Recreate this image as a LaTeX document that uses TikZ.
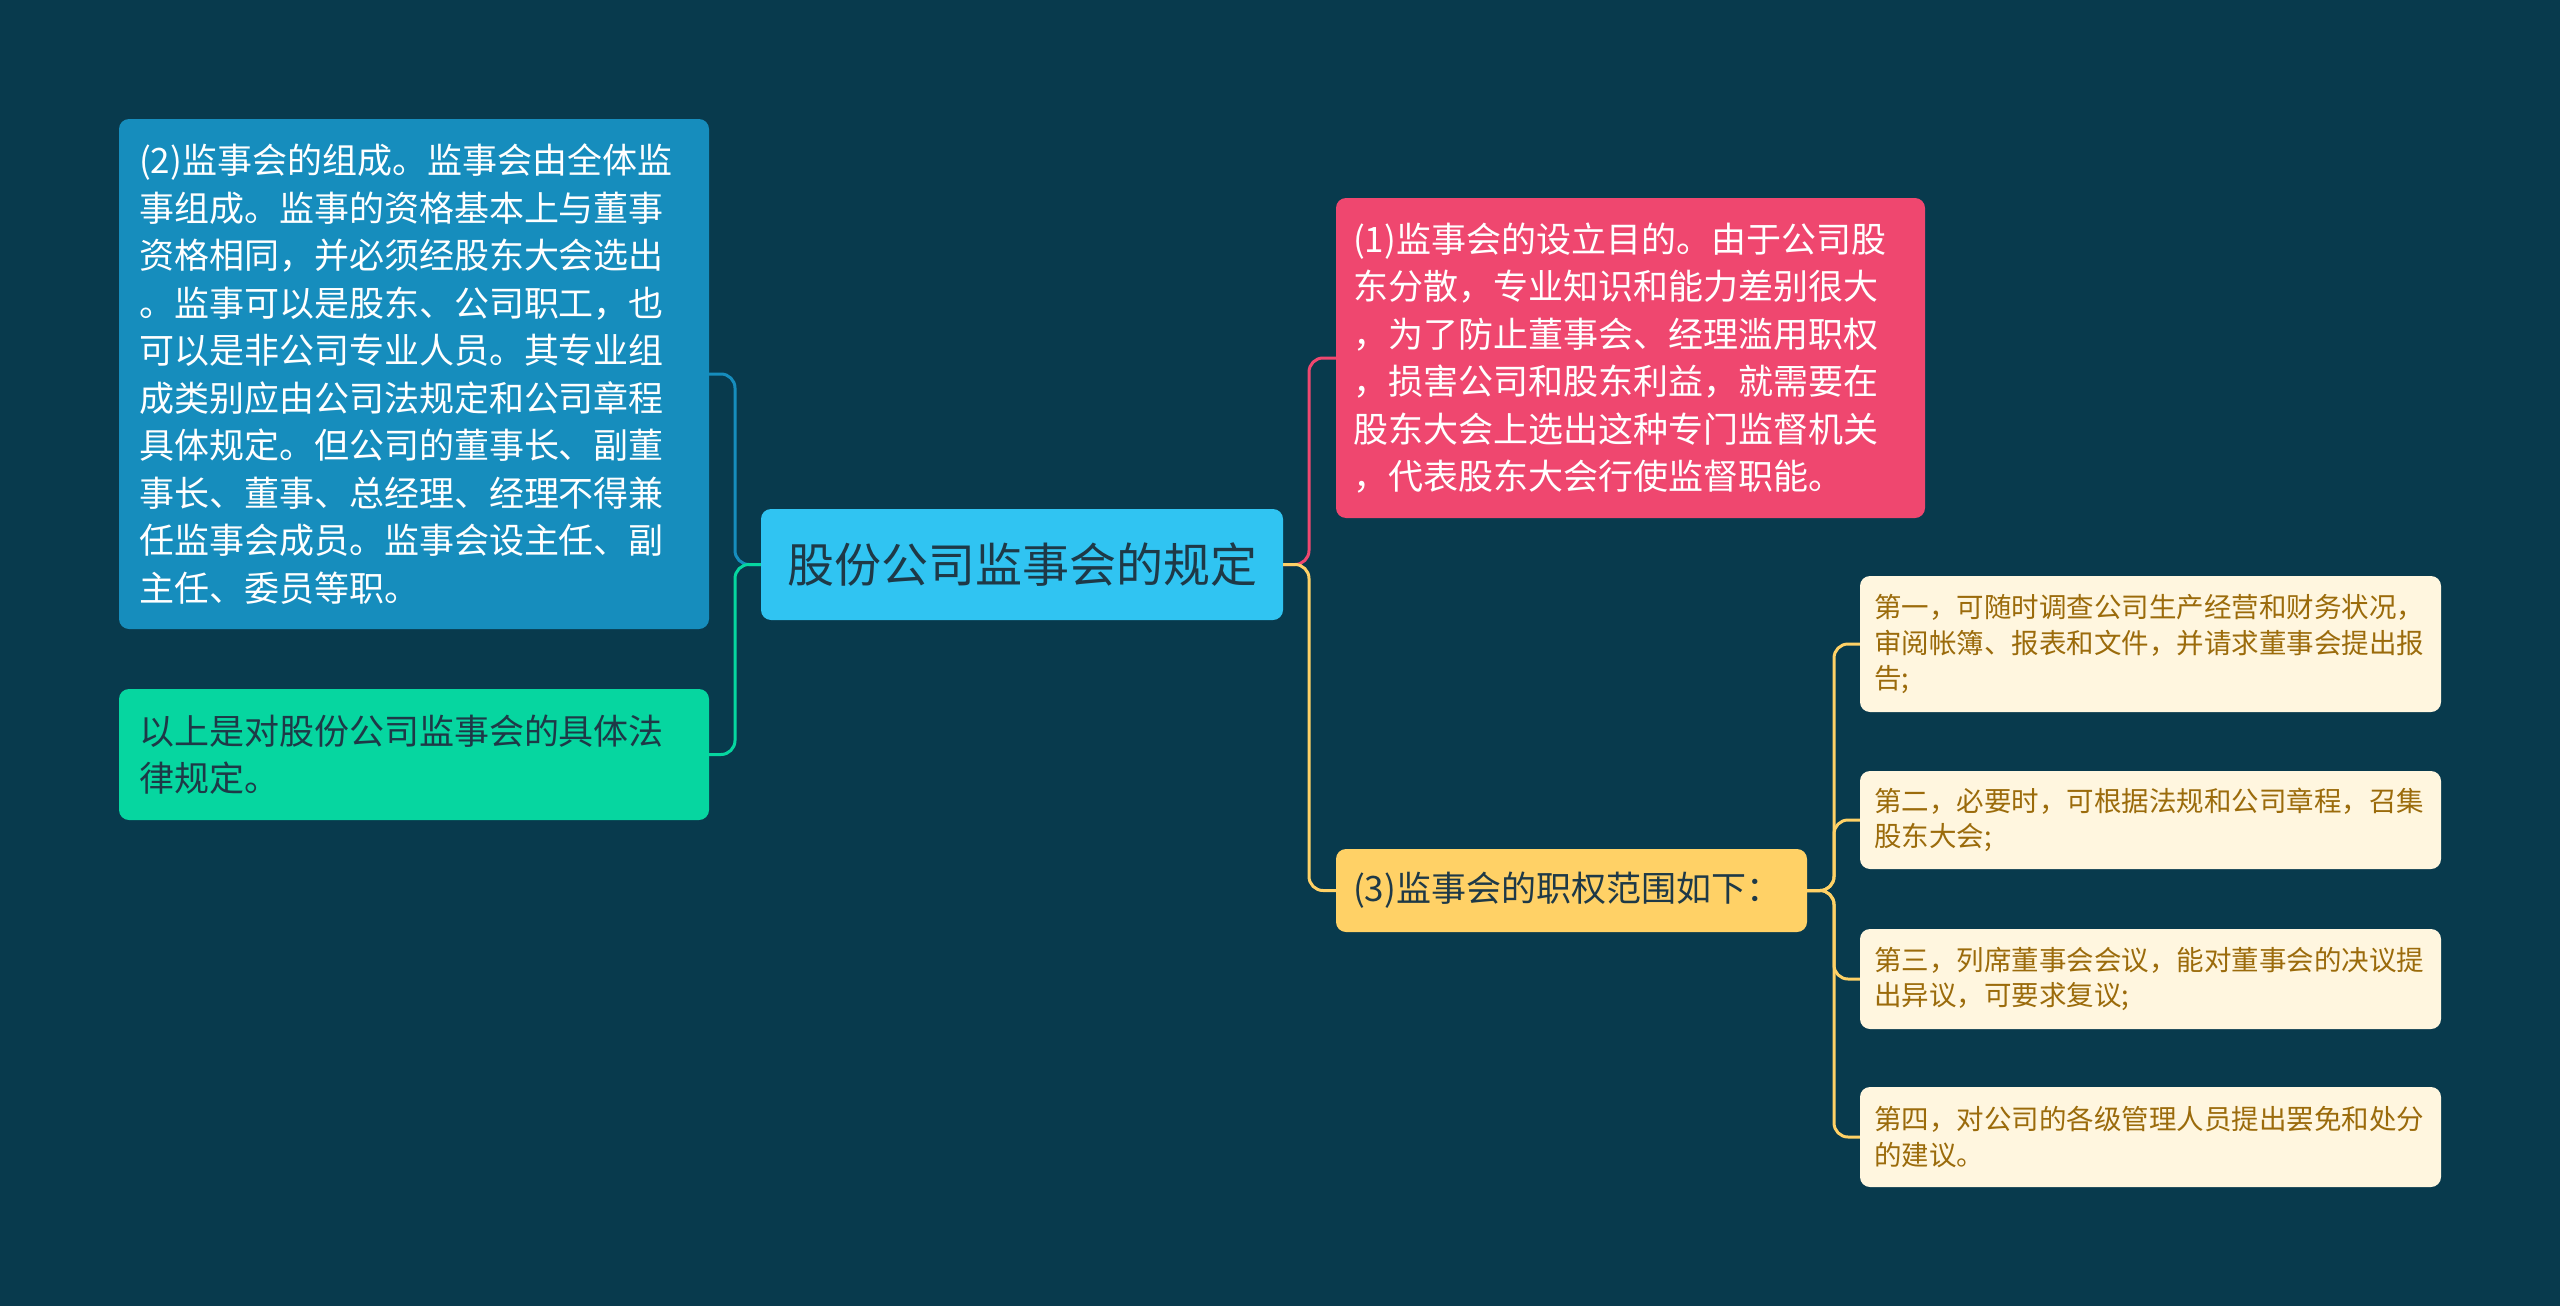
\documentclass[tikz,border=0pt]{standalone}
\usepackage{fontspec}
\setmainfont{Noto Sans CJK SC}
\definecolor{bg}{HTML}{083A4D}
\definecolor{cblue}{HTML}{168DBD}
\definecolor{cgreen}{HTML}{06D6A0}
\definecolor{ccenter}{HTML}{30C4F2}
\definecolor{cpink}{HTML}{EF476F}
\definecolor{cyellow}{HTML}{FFD166}
\definecolor{citem}{HTML}{FFF6DF}
\definecolor{citemtext}{HTML}{9B6B0B}
\definecolor{cdark}{HTML}{1E3947}
\begin{document}
\begin{tikzpicture}[x=1pt,y=-1pt,
  box/.style={rounded corners=10pt, align=left, inner ysep=0pt, anchor=center},
  bigtext/.style={font=\fontsize{35}{47.5}\selectfont},
  smalltext/.style={font=\fontsize{27.5}{35.5}\selectfont},
  conn/.style={line width=3pt, rounded corners=14pt}]
\path[fill=bg] (0,0) rectangle (2560,1306);
\useasboundingbox (0,0) rectangle (2560,1306);

% nodes
\node[box, bigtext, fill=cblue, text=white, inner xsep=20pt, text width=550pt, minimum height=510pt] (blue) at (414,374)
 {(2)监事会的组成。监事会由全体监\\事组成。监事的资格基本上与董事\\资格相同，并必须经股东大会选出\\。监事可以是股东、公司职工，也\\可以是非公司专业人员。其专业组\\成类别应由公司法规定和公司章程\\具体规定。但公司的董事长、副董\\事长、董事、总经理、经理不得兼\\任监事会成员。监事会设主任、副\\主任、委员等职。};
\node[box, bigtext, fill=cgreen, text=cdark, inner xsep=20pt, text width=550pt, minimum height=131pt] (green) at (414,754.5)
 {以上是对股份公司监事会的具体法\\律规定。};
\node[box, fill=ccenter, text=cdark, align=center, inner xsep=0pt, minimum width=522pt, minimum height=111pt, font=\fontsize{47}{56}\selectfont] (center) at (1022,564.5)
 {股份公司监事会的规定};
\node[box, bigtext, fill=cpink, text=white, inner xsep=17pt, text width=555pt, minimum height=320pt] (pink) at (1630.5,358)
 {(1)监事会的设立目的。由于公司股\\东分散，专业知识和能力差别很大\\，为了防止董事会、经理滥用职权\\，损害公司和股东利益，就需要在\\股东大会上选出这种专门监督机关\\，代表股东大会行使监督职能。};
\node[box, bigtext, fill=cyellow, text=cdark, inner xsep=17pt, text width=437pt, minimum height=83pt] (yel) at (1571.5,890.5)
 {(3)监事会的职权范围如下：};
\node[box, smalltext, fill=citem, text=citemtext, inner xsep=14pt, text width=553pt, minimum height=136pt] (item1) at (2150.5,644)
 {第一，可随时调查公司生产经营和财务状况，\\审阅帐簿、报表和文件，并请求董事会提出报\\告;};
\node[box, smalltext, fill=citem, text=citemtext, inner xsep=14pt, text width=553pt, minimum height=98pt] (item2) at (2150.5,820)
 {第二，必要时，可根据法规和公司章程，召集\\股东大会;};
\node[box, smalltext, fill=citem, text=citemtext, inner xsep=14pt, text width=553pt, minimum height=100pt] (item3) at (2150.5,979)
 {第三，列席董事会会议，能对董事会的决议提\\出异议，可要求复议;};
\node[box, smalltext, fill=citem, text=citemtext, inner xsep=14pt, text width=553pt, minimum height=100pt] (item4) at (2150.5,1137)
 {第四，对公司的各级管理人员提出罢免和处分\\的建议。};

% connectors
\coordinate (lbus) at (735,564.5);
\coordinate (rbus) at (1309,564.5);
\coordinate (ibus) at (1834,890.5);
\draw[conn, cblue] (center.west) -- (lbus) |- (blue.east);
\draw[conn, cgreen] (center.west) -- (lbus) |- (green.east);
\draw[conn, cpink] (center.east) -- (rbus) |- (pink.west);
\draw[conn, cyellow] (center.east) -- (rbus) |- (yel.west);
\draw[conn, cyellow] (yel.east) -- (ibus) |- (item1.west);
\draw[conn, cyellow] (yel.east) -- (ibus) |- (item2.west);
\draw[conn, cyellow] (yel.east) -- (ibus) |- (item3.west);
\draw[conn, cyellow] (yel.east) -- (ibus) |- (item4.west);
\end{tikzpicture}
\end{document}
